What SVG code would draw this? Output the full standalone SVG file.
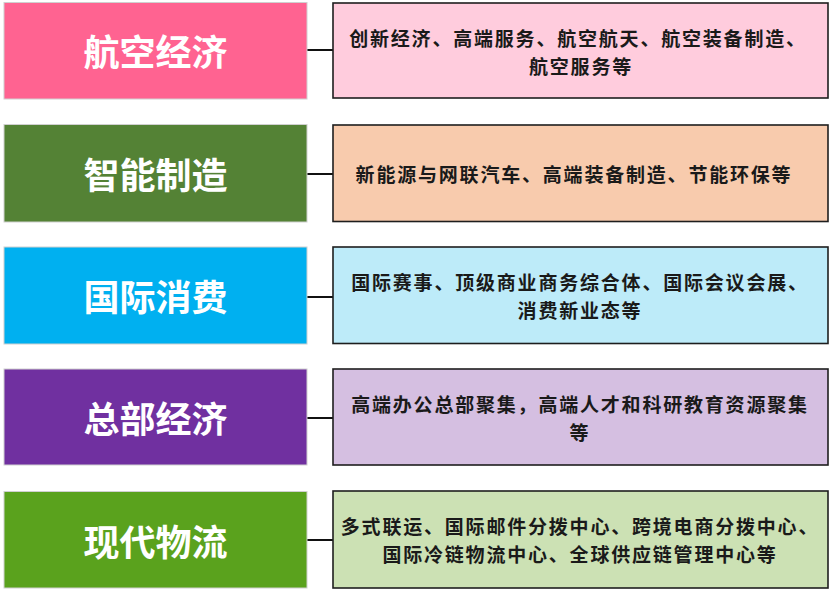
<svg xmlns="http://www.w3.org/2000/svg" width="833" height="593" viewBox="0 0 833 593">
<style>
.cat{stroke:#d0d0d0;stroke-width:1}
.det{stroke:#1e1e1e;stroke-width:1.6}
.ct{font-family:"Noto Sans CJK SC","Noto Sans",sans-serif;font-weight:bold;font-size:36px;fill:#ffffff;text-anchor:middle;dominant-baseline:central}
.dt{font-family:"Noto Sans CJK SC","Noto Sans",sans-serif;font-weight:bold;font-size:19px;letter-spacing:1.8px;fill:#1a1a1a;text-anchor:middle;dominant-baseline:central}
.conn{stroke:#111;stroke-width:2}
</style>
<rect width="833" height="593" fill="#ffffff"/>
<g id="connectors">
<line class="conn" x1="307" y1="50" x2="333" y2="50"/>
<line class="conn" x1="307" y1="174" x2="333" y2="174"/>
<line class="conn" x1="307" y1="297" x2="333" y2="297"/>
<line class="conn" x1="307" y1="418" x2="333" y2="418"/>
<line class="conn" x1="307" y1="540" x2="333" y2="540"/>
</g>
<g id="cat1"><rect class="cat" x="4" y="2.5" width="303" height="96.5" fill="#FF6391"/><text class="ct" x="155.5" y="50">航空经济</text></g>
<g id="cat2"><rect class="cat" x="4" y="124.5" width="303" height="97.5" fill="#548235"/><text class="ct" x="155.5" y="173">智能制造</text></g>
<g id="cat3"><rect class="cat" x="4" y="247" width="303" height="97" fill="#00B0F0"/><text class="ct" x="155.5" y="295">国际消费</text></g>
<g id="cat4"><rect class="cat" x="4" y="369" width="303" height="96" fill="#7030A0"/><text class="ct" x="155.5" y="417">总部经济</text></g>
<g id="cat5"><rect class="cat" x="4" y="491.5" width="303" height="96.5" fill="#5AA21D"/><text class="ct" x="155.5" y="540">现代物流</text></g>
<g id="det1"><rect class="det" x="333" y="3" width="495" height="95" fill="#FFCCDD"/><text class="dt" x="578" y="37">创新经济、高端服务、航空航天、航空装备制造、</text><text class="dt" x="581" y="65">航空服务等</text></g>
<g id="det2"><rect class="det" x="333" y="125" width="495" height="96.5" fill="#F8CBAD"/><text class="dt" x="574" y="173">新能源与网联汽车、高端装备制造、节能环保等</text></g>
<g id="det3"><rect class="det" x="333" y="247" width="495" height="96.5" fill="#BDEBF9"/><text class="dt" x="580" y="281">国际赛事、顶级商业商务综合体、国际会议会展、</text><text class="dt" x="580" y="309">消费新业态等</text></g>
<g id="det4"><rect class="det" x="333" y="369" width="495" height="96" fill="#D5BFE1"/><text class="dt" x="580" y="403">高端办公总部聚集，高端人才和科研教育资源聚集</text><text class="dt" x="580" y="431">等</text></g>
<g id="det5"><rect class="det" x="333" y="491" width="495" height="97" fill="#CCE1B4"/><text class="dt" x="580" y="525">多式联运、国际邮件分拨中心、跨境电商分拨中心、</text><text class="dt" x="580" y="553">国际冷链物流中心、全球供应链管理中心等</text></g>
</svg>
